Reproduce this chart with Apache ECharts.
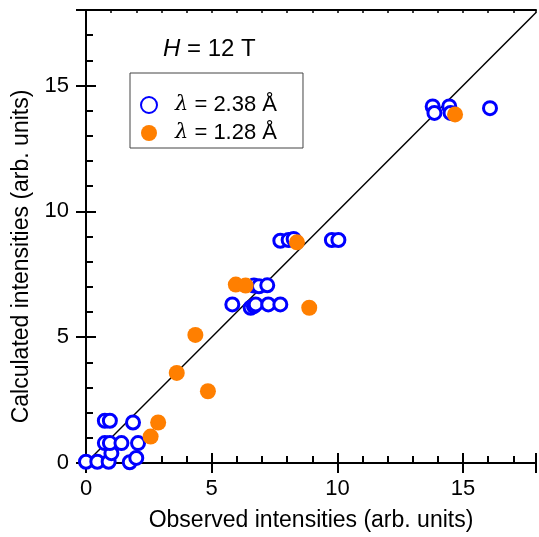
<!DOCTYPE html>
<html>
<head>
<meta charset="utf-8">
<script src="https://cdn.jsdelivr.net/npm/echarts@6/dist/echarts.min.js"></script>
<style>
  html, body { margin: 0; padding: 0; background: #fff; }
  #chart-container { width: 539px; height: 537px; }
</style>
</head>
<body>
<div id="chart-container"></div>
<script>
// lambda = 2.38 A (open blue circles): [observed, calculated]
const puntosLambda238 = [
  [0, 0.05], [0.45, 0.05], [0.9, 0.05], [1.74, 0.03], [2.0, 0.2],
  [1.01, 0.39],
  [0.75, 0.79], [0.95, 0.79], [1.41, 0.79], [2.07, 0.79],
  [0.75, 1.68], [0.95, 1.68], [1.87, 1.61],
  [5.82, 6.3], [6.55, 6.17], [6.68, 6.23], [6.75, 6.3], [7.25, 6.3], [7.73, 6.3],
  [6.68, 7.05], [6.88, 7.02], [7.21, 7.06],
  [7.73, 8.83], [8.06, 8.86], [8.26, 8.9], [9.78, 8.86], [10.04, 8.86],
  [13.79, 14.17], [13.86, 13.91], [14.45, 14.17], [14.5, 13.91], [16.07, 14.1]
];

// lambda = 1.28 A (filled orange circles)
const puntosLambda128 = [
  [2.57, 1.05], [2.87, 1.61], [3.61, 3.58], [4.35, 5.09], [4.85, 2.85],
  [5.96, 7.09], [6.35, 7.05], [8.39, 8.77], [8.88, 6.17], [14.68, 13.85]
];

// y = x reference line
const lineaDiagonal = [[-0.3, -0.3], [17.9, 17.9]];

const nombresSeries = ['λ238', 'λ128'];
const etiquetasLeyenda = {
  'λ238': '{s|}{i|λ} = 2.38 Å',
  'λ128': '{s|}{i|λ} = 1.28 Å'
};

const fuente = 'Liberation Sans, Arial, sans-serif';
const negro = '#000';

let myChart = echarts.init(document.getElementById('chart-container'), null, {
  renderer: 'canvas'
});

const soloMultiplos = (v) => (v % 5 === 0 ? String(v) : '');

const opciones = {
  animation: false,
  title: {
    text: '{i|H} = 12 T',
    left: 158,
    top: 32,
    textStyle: {
      fontFamily: fuente,
      fontSize: 24,
      fontWeight: 'normal',
      color: negro,
      rich: {
        i: { fontFamily: fuente, fontSize: 24, fontStyle: 'italic', color: negro }
      }
    }
  },
  legend: {
    data: nombresSeries,
    orient: 'vertical',
    left: 130,
    top: 73,
    padding: [21, 26, 4, 10],
    itemWidth: 16,
    itemHeight: 16,
    itemGap: 6,
    borderColor: '#444',
    borderWidth: 1,
    formatter: (nombre) => etiquetasLeyenda[nombre],
    textStyle: {
      fontFamily: fuente,
      fontSize: 22,
      color: negro,
      rich: {
        s: { width: 13 },
        i: { fontFamily: 'DejaVu Serif, serif', fontSize: 21, fontStyle: 'italic', color: negro }
      }
    }
  },
  grid: { left: 86, right: 0, top: 10, bottom: 72, containLabel: false },
  xAxis: [
    {
      type: 'value', min: 0, max: 17.9, interval: 5, position: 'bottom',
      name: 'Observed intensities (arb. units)',
      nameLocation: 'middle', nameGap: 46,
      nameTextStyle: { fontFamily: fuente, fontSize: 23, color: negro },
      axisLine: { onZero: false, lineStyle: { color: negro, width: 2 } },
      axisTick: { show: true, inside: false, length: 10, lineStyle: { color: negro, width: 2 } },
      axisLabel: { fontFamily: fuente, fontSize: 22, color: negro, margin: 15, formatter: soloMultiplos },
      splitLine: { show: false }
    },
    {
      type: 'value', min: 0, max: 17.9, interval: 5, position: 'bottom',
      axisLine: { show: true, onZero: false, lineStyle: { color: negro, width: 2, opacity: 0 } },
      axisTick: { show: true, inside: true, length: 10, lineStyle: { color: negro, width: 2 } },
      minorTick: { show: true, splitNumber: 5, length: 7, lineStyle: { color: negro, width: 2 } },
      axisLabel: { show: false },
      splitLine: { show: false }
    },
    {
      type: 'value', min: 0, max: 17.9, interval: 1, position: 'top',
      axisLine: { onZero: false, lineStyle: { color: negro, width: 2 } },
      axisTick: { show: true, inside: true, length: 3, lineStyle: { color: negro, width: 1.5 } },
      axisLabel: { show: false },
      splitLine: { show: false }
    }
  ],
  yAxis: [
    {
      type: 'value', min: 0, max: 18, interval: 5, position: 'left',
      name: 'Calculated intensities (arb. units)',
      nameLocation: 'middle', nameGap: 46,
      nameTextStyle: { fontFamily: fuente, fontSize: 23, color: negro, padding: [0, 40, 0, 0] },
      axisLine: { onZero: false, lineStyle: { color: negro, width: 2 } },
      axisTick: { show: true, inside: false, length: 10, lineStyle: { color: negro, width: 2 } },
      axisLabel: { fontFamily: fuente, fontSize: 22, color: negro, margin: 17, formatter: soloMultiplos },
      splitLine: { show: false }
    },
    {
      type: 'value', min: 0, max: 18, interval: 5, position: 'left',
      axisLine: { show: true, onZero: false, lineStyle: { color: negro, width: 2, opacity: 0 } },
      axisTick: { show: true, inside: true, length: 10, lineStyle: { color: negro, width: 2 } },
      minorTick: { show: true, splitNumber: 5, length: 7, lineStyle: { color: negro, width: 2 } },
      axisLabel: { show: false },
      splitLine: { show: false }
    }
  ],
  series: [
    {
      type: 'line',
      data: lineaDiagonal,
      symbol: 'none',
      clip: false,
      silent: true,
      lineStyle: { color: negro, width: 1.5 },
      z: 1
    },
    {
      name: 'λ238',
      type: 'scatter',
      data: puntosLambda238,
      symbol: 'circle',
      symbolSize: 13,
      clip: false,
      itemStyle: { color: '#fff', borderColor: '#0000ff', borderWidth: 3, opacity: 1 },
      z: 3
    },
    {
      name: 'λ128',
      type: 'scatter',
      data: puntosLambda128,
      symbol: 'circle',
      symbolSize: 16,
      clip: false,
      itemStyle: { color: '#ff7f00', borderWidth: 0, opacity: 1 },
      z: 4
    }
  ]
};

myChart.setOption(opciones);
window.addEventListener('resize', myChart.resize);
</script>
</body>
</html>
